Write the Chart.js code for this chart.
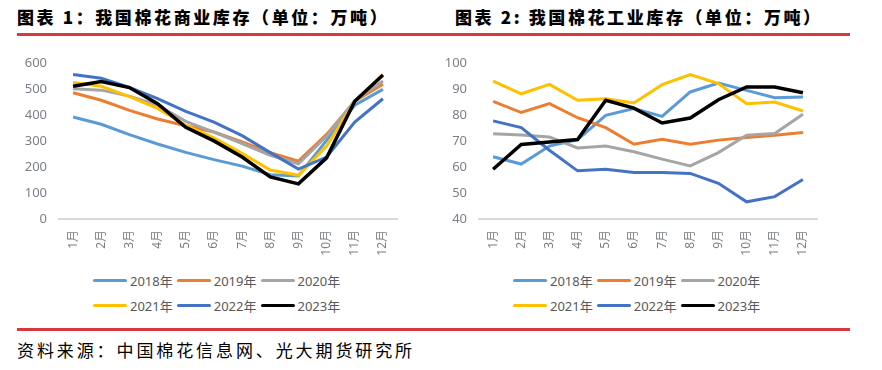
<!DOCTYPE html>
<html>
<head>
<meta charset="utf-8">
<script src="https://cdn.jsdelivr.net/npm/chart.js@4.4.0/dist/chart.umd.min.js"></script>
<style>
  body { margin: 0; background: #fff; }
  #page { position: relative; width: 882px; height: 370px; overflow: hidden; background: #fff; font-family: "Noto Sans", "Noto Sans CJK SC", sans-serif; }
  .title { position: absolute; top: 7px; font-family: "Noto Sans CJK SC", sans-serif; font-weight: 900; font-size: 17px; letter-spacing: 2.6px; color: #000; white-space: nowrap; line-height: 20px; }
  .redline { position: absolute; left: 17px; width: 833px; height: 3px; background: #d7373d; }
  .chartbox { position: absolute; top: 43px; }
  .legend { position: absolute; font-size: 13px; color: #595959; }
  .legend .row { display: flex; height: 25px; align-items: center; }
  .legend .item { display: flex; align-items: center; margin-right: 4px; }
  .legend .swatch { width: 34px; height: 3px; border-radius: 2px; margin-right: 3px; }
  .source { position: absolute; left: 17px; top: 339px; font-family: "Noto Sans CJK SC", sans-serif; font-size: 17px; letter-spacing: 2.9px; color: #000; white-space: nowrap; line-height: 22px; }
</style>
</head>
<body>
<div id="page">
  <div class="title" style="left:17px">图表 1：我国棉花商业库存（单位：万吨）</div>
  <div class="title" style="left:455px">图表 2: 我国棉花工业库存（单位：万吨）</div>
  <div class="redline" style="top:33px"></div>

  <div class="chartbox" style="left:0px"><canvas id="left" width="430" height="221"></canvas></div>
  <div class="chartbox" style="left:430px"><canvas id="right" width="452" height="221"></canvas></div>

  <div class="legend" id="legendLeft" style="left:93px; top:268px"></div>
  <div class="legend" id="legendRight" style="left:513px; top:268px"></div>

  <div class="redline" style="top:328px"></div>
  <div class="source">资料来源：中国棉花信息网、光大期货研究所</div>
</div>

<script>
const months = ["1月", "2月", "3月", "4月", "5月", "6月", "7月", "8月", "9月", "10月", "11月", "12月"];
const seriesNames = ["2018年", "2019年", "2020年", "2021年", "2022年", "2023年"];
const seriesColors = ["#5b9bd5", "#ed7d31", "#a5a5a5", "#ffc000", "#4472c4", "#000000"];

// 商业库存（万吨）
const commercial2018 = [392, 364, 324, 288, 256, 228, 203, 170, 165, 302, 437, 498];
const commercial2019 = [485, 456, 417, 384, 358, 334, 296, 255, 222, 325, 452, 518];
const commercial2020 = [500, 495, 472, 437, 375, 334, 290, 245, 212, 318, 455, 530];
const commercial2021 = [524, 510, 470, 425, 360, 312, 252, 188, 168, 280, 452, 555];
const commercial2022 = [555, 541, 505, 462, 413, 372, 320, 255, 192, 238, 372, 462];
const commercial2023 = [510, 528, 505, 443, 352, 300, 238, 162, 135, 235, 452, 553];

// 工业库存（万吨）
const industrial2018 = [63.9, 61.1, 68.0, 70.5, 79.8, 82.4, 79.4, 88.8, 92.2, 89.4, 86.6, 86.9];
const industrial2019 = [85.2, 80.9, 84.3, 78.9, 75.1, 68.7, 70.6, 68.7, 70.3, 71.3, 72.2, 73.2];
const industrial2020 = [72.7, 72.3, 71.5, 67.3, 68.0, 65.8, 63.0, 60.4, 65.5, 72.2, 72.8, 80.2];
const industrial2021 = [93.0, 88.1, 91.7, 85.6, 86.2, 84.6, 91.6, 95.5, 92.0, 84.3, 84.9, 81.5];
const industrial2022 = [77.7, 75.1, 66.4, 58.5, 59.1, 57.9, 57.9, 57.5, 53.7, 46.6, 48.6, 55.2];
const industrial2023 = [59.1, 68.6, 69.6, 70.5, 85.6, 82.6, 76.9, 78.8, 85.8, 90.7, 90.7, 88.5];

const leftTicks = { min: 0, max: 600, step: 100 };
const rightTicks = { min: 40, max: 100, step: 10 };

const tickFont = { family: "'Noto Sans', 'Noto Sans CJK SC', sans-serif", size: 13 };
const tickColor = "#7a7f87";

function makeDatasets(seriesList) {
  return seriesList.map((values, i) => ({
    label: seriesNames[i],
    data: values,
    borderColor: seriesColors[i],
    backgroundColor: seriesColors[i],
    borderWidth: i === 5 ? 3.5 : 3,
    pointRadius: 0,
    tension: 0,
    fill: false,
    order: seriesList.length - i, // later years on top, like the excel chart
  }));
}

function makeChart(id, seriesList, ticks, yWidth, padRight) {
  const ctx = document.getElementById(id).getContext("2d");
  return new Chart(ctx, {
    type: "line",
    data: { labels: months, datasets: makeDatasets(seriesList) },
    options: {
      responsive: false,
      animation: false,
      devicePixelRatio: 1,
      layout: { padding: { top: 14, right: padRight, bottom: 0, left: 0 } },
      plugins: { legend: { display: false }, tooltip: { enabled: false } },
      scales: {
        x: {
          offset: true,
          grid: { display: false, drawTicks: false },
          border: { display: true, color: "#d9d9d9", width: 2 },
          ticks: {
            autoSkip: false,
            minRotation: 90,
            maxRotation: 90,
            padding: 11,
            color: tickColor,
            font: { family: tickFont.family, size: 12 },
          },
          afterFit: (scale) => { scale.height = 45; },
        },
        y: {
          min: ticks.min,
          max: ticks.max,
          grid: { display: false, drawTicks: false },
          border: { display: false },
          ticks: { stepSize: ticks.step, padding: 12, color: tickColor, font: tickFont },
          afterFit: (scale) => { scale.width = yWidth; },
        },
      },
    },
  });
}

makeChart("left",
  [commercial2018, commercial2019, commercial2020, commercial2021, commercial2022, commercial2023],
  leftTicks, 59, 33);
makeChart("right",
  [industrial2018, industrial2019, industrial2020, industrial2021, industrial2022, industrial2023],
  rightTicks, 49, 65);

function buildLegend(id) {
  const box = document.getElementById(id);
  for (let r = 0; r < 2; r++) {
    const row = document.createElement("div");
    row.className = "row";
    for (let c = 0; c < 3; c++) {
      const i = r * 3 + c;
      const item = document.createElement("div");
      item.className = "item";
      const sw = document.createElement("span");
      sw.className = "swatch";
      sw.style.background = seriesColors[i];
      const tx = document.createElement("span");
      tx.textContent = seriesNames[i];
      item.appendChild(sw);
      item.appendChild(tx);
      row.appendChild(item);
    }
    box.appendChild(row);
  }
}
buildLegend("legendLeft");
buildLegend("legendRight");
</script>
</body>
</html>
